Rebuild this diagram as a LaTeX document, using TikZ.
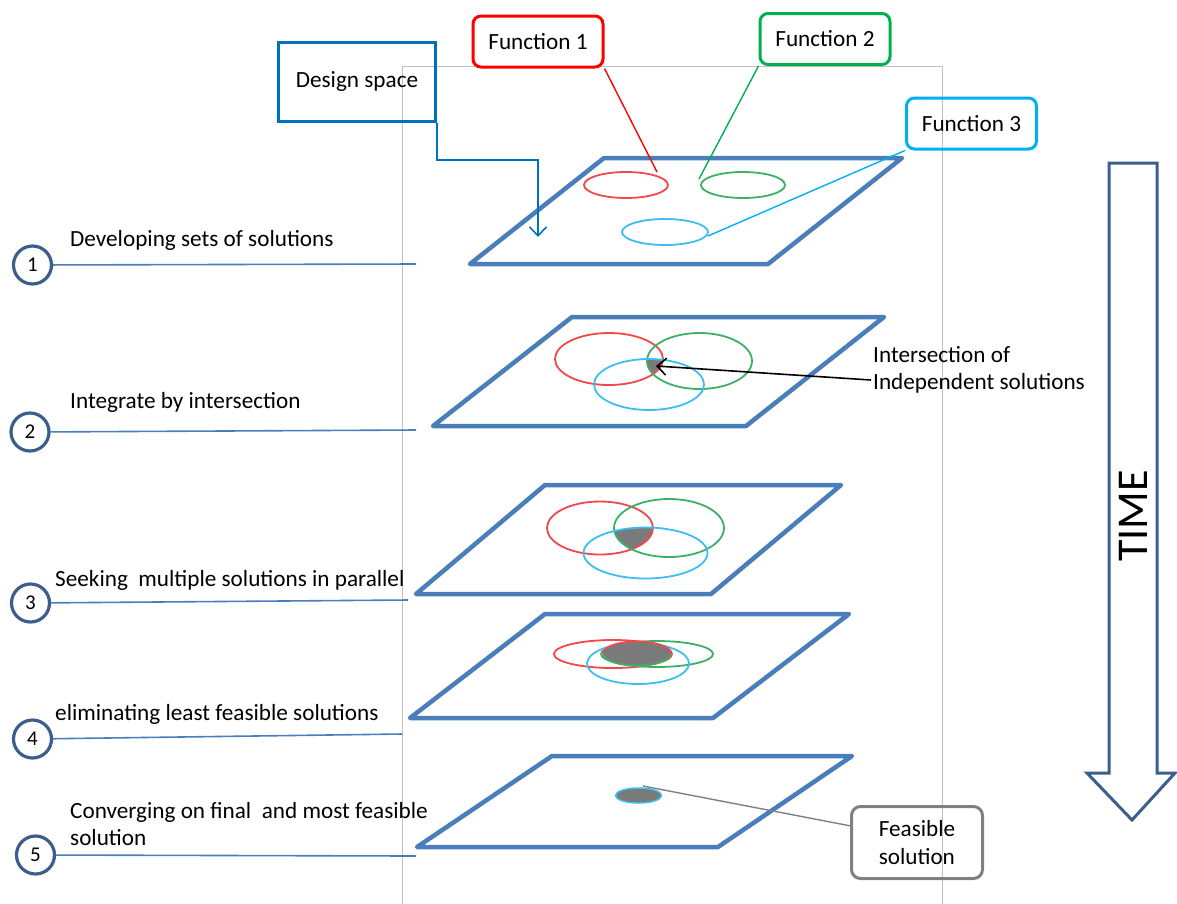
\documentclass[tikz,border=0pt]{standalone}
\usepackage{fontspec}
\setmainfont{Carlito}
\usetikzlibrary{arrows.meta}

\definecolor{planeblue}{HTML}{4A7EBB}
\definecolor{ringblue}{HTML}{3B5E8C}
\definecolor{dsblue}{HTML}{0070C0}
\definecolor{fnred}{HTML}{FF0000}
\definecolor{fngreen}{HTML}{00B050}
\definecolor{fncyan}{HTML}{00B0F0}
\definecolor{elred}{HTML}{F0484C}
\definecolor{elgreen}{HTML}{3CB066}
\definecolor{elcyan}{HTML}{3CBFF0}
\definecolor{shadegray}{HTML}{7A7A7A}
\definecolor{framegray}{HTML}{C0C0C0}
\definecolor{boxgray}{HTML}{808080}

\begin{document}
\begin{tikzpicture}[x=1pt,y=-1pt,
  txt/.style={font=\fontsize{23.2}{27}\selectfont,inner sep=0pt},
  plane/.style={draw=planeblue,line width=4.5pt,line join=round},
  fnbox/.style={draw=#1,line width=3pt,rounded corners=8pt,
    minimum width=130pt,minimum height=51pt,inner sep=0pt,
    font=\fontsize{23.2}{27}\selectfont},
  ring/.style={circle,draw=ringblue,line width=3.2pt,minimum size=38pt,
    inner sep=0pt,font=\fontsize{21}{24}\selectfont},
  stepline/.style={draw=planeblue,line width=1.6pt},
  ell/.style={line width=1.8pt},
  lead/.style={line width=1.4pt},
  barb/.style={-{Straight Barb[length=9pt,width=17pt,line width=1.6pt]}}]

\useasboundingbox (0,0) rectangle (1177,903);

% thin frame around the stack of planes
\draw[framegray,line width=0.8pt] (402,904) -- (402,66) -- (942,66) -- (942,904);

% ---------- plane 1: developing sets of solutions ----------
\draw[plane] (604,158) -- (902,158) -- (768,264) -- (470,264) -- cycle;
\draw[ell,elred]   (626,185) ellipse [x radius=42,y radius=13];
\draw[ell,elgreen] (743,185) ellipse [x radius=42,y radius=13];
\draw[ell,elcyan]  (665,232) ellipse [x radius=43,y radius=13];

% ---------- plane 2: integrate by intersection ----------
\draw[plane] (572,317) -- (884,317) -- (746,426) -- (433,426) -- cycle;
\begin{scope}
  \clip (609,359) ellipse [x radius=54,y radius=26];
  \clip (699.5,361) ellipse [x radius=52.5,y radius=28];
  \fill[shadegray] (649,384.5) ellipse [x radius=55,y radius=25.5];
\end{scope}
\draw[ell,elred]   (609,359) ellipse [x radius=54,y radius=26];
\draw[ell,elgreen] (699.5,361) ellipse [x radius=52.5,y radius=28];
\draw[ell,elcyan]  (649,384.5) ellipse [x radius=55,y radius=25.5];

% ---------- plane 3: parallel solutions ----------
\draw[plane] (545,485) -- (841,485) -- (711,594) -- (416,594) -- cycle;
\begin{scope}
  \clip (600,528) ellipse [x radius=53,y radius=26.5];
  \clip (669,528) ellipse [x radius=55,y radius=29];
  \fill[shadegray] (645.5,553) ellipse [x radius=62,y radius=25.5];
\end{scope}
\draw[ell,elred]   (600,528) ellipse [x radius=53,y radius=26.5];
\draw[ell,elgreen] (669,528) ellipse [x radius=55,y radius=29];
\draw[ell,elcyan]  (645.5,553) ellipse [x radius=62,y radius=25.5];

% ---------- plane 4: eliminating ----------
\draw[plane] (545,614) -- (849,614) -- (713,718) -- (410,718) -- cycle;
\draw[ell,elred]   (613,654) ellipse [x radius=59,y radius=14];
\draw[ell,elgreen] (657,654) ellipse [x radius=56,y radius=13];
\draw[ell,elcyan]  (638,663.5) ellipse [x radius=51,y radius=20.5];
\fill[shadegray] (637,653.5) ellipse [x radius=34,y radius=12];
\draw[ell,elgreen] (603,653.5) arc [start angle=180,end angle=360,x radius=34,y radius=-12];
\draw[ell,elred]   (603,653.5) arc [start angle=180,end angle=360,x radius=34,y radius=12];

% ---------- plane 5: converging ----------
\draw[plane] (552,756) -- (852,756) -- (718,847) -- (417,847) -- cycle;
\draw[fill=shadegray,draw=elcyan,line width=1.5pt] (638.5,795.5) ellipse [x radius=23,y radius=7.5];

% anchor points on the planes
\coordinate (dstip) at (538,237);
\coordinate (e1red) at (657,172);
\coordinate (e1green) at (699,179);
\coordinate (e1cyan) at (708,236);
\coordinate (isect) at (656,366);
\coordinate (ixtail) at (871,380);
\coordinate (fdot) at (643,786);

% ---------- callout boxes ----------
\node[draw=dsblue,line width=3pt,minimum width=157pt,minimum height=79pt,
      inner sep=0pt,font=\fontsize{23.2}{27}\selectfont] (ds) at (357,82) {Design space};
\node[fnbox=fnred]   (f1) at (538,41.5) {Function 1};
\node[fnbox=fngreen] (f2) at (825,39)   {Function 2};
\node[fnbox=fncyan]  (f3) at (971.5,123.5) {Function 3};
\node[draw=boxgray,line width=3pt,rounded corners=9pt,minimum width=131pt,
      minimum height=72pt,inner sep=0pt,align=left,
      font=\fontsize{23.2}{28}\selectfont] (fs) at (917,842.5) {Feasible\\solution};

\draw[dsblue,line width=1.4pt,barb] (ds.south east) |- (538,160) -- (dstip);
\draw[lead,fnred]   (f1.south east) -- (e1red);
\draw[lead,fngreen] (f2.south west) -- (e1green);
\draw[lead,fncyan]  (f3.south west) -- (e1cyan);
\draw[lead,boxgray] (fs.166) -- (fdot);

\node[txt,anchor=base west,align=left] (ix) at (873,389)
  {Intersection of\\Independent solutions};
\draw[black,line width=1.6pt,barb] (ixtail) -- (isect);

% ---------- numbered steps ----------
\node[ring] (n1) at (32.5,265) {1};
\node[ring] (n2) at (30,432)   {2};
\node[ring] (n3) at (30.5,603) {3};
\node[ring] (n4) at (32.5,739) {4};
\node[ring] (n5) at (35.5,855) {5};
\coordinate (l1) at (416,264);
\coordinate (l2) at (416,430);
\coordinate (l3) at (408,600);
\coordinate (l4) at (402,734);
\coordinate (l5) at (416,856);
\draw[stepline] (n1) -- (l1);
\draw[stepline] (n2) -- (l2);
\draw[stepline] (n3) -- (l3);
\draw[stepline] (n4) -- (l4);
\draw[stepline] (n5) -- (l5);

\node[txt,anchor=base west] (t1) at (70,246) {Developing sets of solutions};
\node[txt,anchor=base west] (t2) at (70,408) {Integrate by intersection};
\node[txt,anchor=base west] (t3) at (55,586.5) {Seeking\ \ multiple solutions in parallel};
\node[txt,anchor=base west] (t4) at (55,720) {eliminating least feasible solutions};
\node[txt,anchor=base west,align=left] (t5) at (70,845)
  {Converging on final\ \ and most feasible\\solution};

% ---------- time arrow ----------
\draw[ringblue,line width=3pt,fill=white,line join=miter]
  (1109,163) -- (1157,163) -- (1157,773) -- (1175,773) -- (1132,820)
  -- (1087,773) -- (1109,773) -- cycle;
\node[rotate=90,inner sep=0pt,font=\fontsize{44}{48}\selectfont] (time) at (1133,516) {TIME};
\end{tikzpicture}
\end{document}
